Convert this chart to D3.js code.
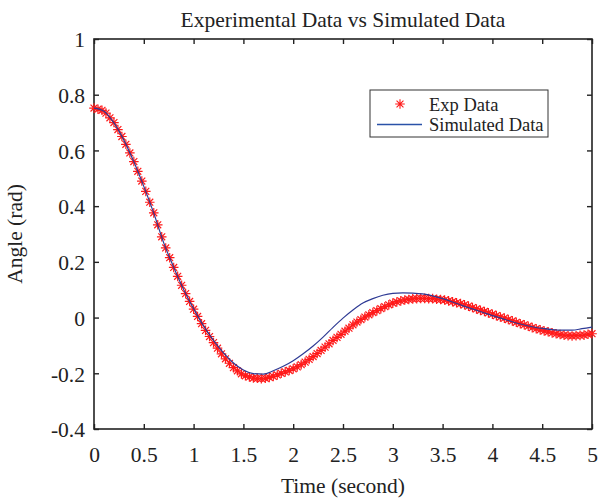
<!DOCTYPE html>
<html>
<head>
<meta charset="utf-8">
<script src="https://cdn.jsdelivr.net/npm/d3@7"></script>
<style>
  html, body { margin: 0; padding: 0; background: #fff; }
  svg { display: block; }
  text { font-family: "Liberation Serif", "Times New Roman", serif; fill: #222; }
</style>
</head>
<body>
<svg id="chart" width="600" height="502"></svg>
<script>
// ---- data ----
const titleText = "Experimental Data vs Simulated Data";
const xLabel = "Time (second)";
const yLabel = "Angle (rad)";
const seriesNames = ["Exp Data", "Simulated Data"];
const xTicks = [0, 0.5, 1, 1.5, 2, 2.5, 3, 3.5, 4, 4.5, 5];
const xTickLabels = ["0", "0.5", "1", "1.5", "2", "2.5", "3", "3.5", "4", "4.5", "5"];
const yTicks = [-0.4, -0.2, 0, 0.2, 0.4, 0.6, 0.8, 1];
const yTickLabels = ["-0.4", "-0.2", "0", "0.2", "0.4", "0.6", "0.8", "1"];

// experimental samples, every 0.04 s from 0 to 5 s
const expStep = 0.04;
const expValues = [
  0.752, 0.748, 0.744, 0.734, 0.717, 0.700, 0.675, 0.650, 0.622, 0.591,
  0.560, 0.525, 0.490, 0.453, 0.414, 0.376, 0.333, 0.290, 0.250, 0.215,
  0.180, 0.148, 0.116, 0.086, 0.058, 0.030, 0.004, -0.022, -0.046, -0.068,
  -0.090, -0.110, -0.130, -0.148, -0.164, -0.180, -0.191, -0.202, -0.209, -0.213,
  -0.217, -0.218, -0.219, -0.218, -0.215, -0.211, -0.206, -0.200, -0.195, -0.190,
  -0.184, -0.177, -0.169, -0.160, -0.150, -0.140, -0.129, -0.118, -0.106, -0.094,
  -0.082, -0.071, -0.060, -0.049, -0.038, -0.026, -0.016, -0.007, 0.002, 0.010,
  0.018, 0.025, 0.032, 0.039, 0.046, 0.052, 0.056, 0.060, 0.063, 0.065,
  0.067, 0.068, 0.069, 0.069, 0.068, 0.068, 0.066, 0.065, 0.063, 0.060,
  0.057, 0.053, 0.050, 0.046, 0.041, 0.036, 0.031, 0.026, 0.022, 0.017,
  0.012, 0.007, 0.002, -0.002, -0.007, -0.012, -0.017, -0.022, -0.026, -0.031,
  -0.036, -0.040, -0.044, -0.048, -0.051, -0.055, -0.058, -0.061, -0.063, -0.065,
  -0.066, -0.065, -0.064, -0.063, -0.060, -0.058
];

// simulated curve, every 0.1 s from 0 to 5 s
const simStep = 0.1;
const simValues = [
  0.752, 0.741, 0.699, 0.637, 0.559, 0.471, 0.375, 0.268, 0.181, 0.101,
  0.032, -0.030, -0.082, -0.127, -0.163, -0.188, -0.201, -0.203, -0.191, -0.175,
  -0.155, -0.130, -0.102, -0.070, -0.035, -0.002, 0.027, 0.052, 0.068, 0.080,
  0.087, 0.089, 0.088, 0.085, 0.078, 0.068, 0.056, 0.043, 0.031, 0.019,
  0.007, -0.004, -0.015, -0.025, -0.033, -0.039, -0.043, -0.045, -0.045, -0.040,
  -0.034
];

const expData = expValues.map((v, i) => ({ t: i * expStep, v }));
const simData = simValues.map((v, i) => ({ t: i * simStep, v }));

// ---- layout ----
const svg = d3.select("#chart");
const L = 94, R = 592, T = 39, B = 429;
const x = d3.scaleLinear().domain([0, 5]).range([L, R]);
const y = d3.scaleLinear().domain([-0.4, 1]).range([B, T]);

const expColor = "#ff1a1a";
const simColor = "#2e3a94";
const axisColor = "#222";
const tickLen = 5;
const tickFont = 21.5;

// axes box
svg.append("rect")
  .attr("x", L).attr("y", T)
  .attr("width", R - L).attr("height", B - T)
  .attr("fill", "none").attr("stroke", axisColor).attr("stroke-width", 1.6);

// x ticks via d3 axes (inward, bottom and top)
const xAxisB = d3.axisBottom(x).tickValues(xTicks).tickSize(-tickLen).tickPadding(18)
  .tickFormat((d, i) => xTickLabels[i]);
const gxb = svg.append("g").attr("transform", `translate(0,${B})`).call(xAxisB);
const xAxisT = d3.axisTop(x).tickValues(xTicks).tickSize(-tickLen).tickFormat("");
const gxt = svg.append("g").attr("transform", `translate(0,${T})`).call(xAxisT);

const yAxisL = d3.axisLeft(y).tickValues(yTicks).tickSize(-tickLen).tickPadding(9)
  .tickFormat((d, i) => yTickLabels[i]);
const gyl = svg.append("g").attr("transform", `translate(${L},0)`).call(yAxisL);
const yAxisR = d3.axisRight(y).tickValues(yTicks).tickSize(-tickLen).tickFormat("");
const gyr = svg.append("g").attr("transform", `translate(${R},0)`).call(yAxisR);

[gxb, gxt, gyl, gyr].forEach(g => {
  g.select(".domain").remove();
  g.selectAll(".tick line").attr("stroke", axisColor).attr("stroke-width", 1.4);
  g.selectAll(".tick text")
    .attr("font-family", "Liberation Serif, serif")
    .attr("font-size", tickFont)
    .attr("fill", "#222");
});
gxb.selectAll(".tick text").attr("dy", "0.71em");
gyl.selectAll(".tick text").attr("dy", "0.36em");

// experimental markers (asterisks)
const ms = 4.8;
const star = `M${-ms},0L${ms},0M0,${-ms}L0,${ms}` +
  `M${-ms * 0.72},${-ms * 0.72}L${ms * 0.72},${ms * 0.72}` +
  `M${-ms * 0.72},${ms * 0.72}L${ms * 0.72},${-ms * 0.72}`;

svg.append("g").selectAll("path")
  .data(expData).join("path")
  .attr("transform", d => `translate(${x(d.t)},${y(d.v)})`)
  .attr("d", star)
  .attr("fill", "none")
  .attr("stroke", expColor)
  .attr("stroke-width", 1.2);

// simulated line
const line = d3.line().x(d => x(d.t)).y(d => y(d.v)).curve(d3.curveMonotoneX);
svg.append("path")
  .datum(simData)
  .attr("d", line)
  .attr("fill", "none")
  .attr("stroke", simColor)
  .attr("stroke-width", 1.2);

// title and labels
svg.append("text")
  .attr("x", (L + R) / 2).attr("y", 27)
  .attr("text-anchor", "middle")
  .attr("font-size", 21.5)
  .text(titleText);

svg.append("text")
  .attr("x", (L + R) / 2).attr("y", 493)
  .attr("text-anchor", "middle")
  .attr("font-size", 21.5)
  .text(xLabel);

svg.append("text")
  .attr("transform", `translate(22,${(T + B) / 2}) rotate(-90)`)
  .attr("text-anchor", "middle")
  .attr("font-size", 21.5)
  .text(yLabel);

// legend
const lg = svg.append("g");
lg.append("rect")
  .attr("x", 370).attr("y", 90).attr("width", 178).attr("height", 47)
  .attr("fill", "#fff").attr("stroke", "#333").attr("stroke-width", 1);
lg.append("path")
  .attr("transform", "translate(400,104)")
  .attr("d", star)
  .attr("fill", "none").attr("stroke", expColor).attr("stroke-width", 1.1);
lg.append("line")
  .attr("x1", 377).attr("x2", 422).attr("y1", 124.5).attr("y2", 124.5)
  .attr("stroke", "#2a52a8").attr("stroke-width", 1.3);
lg.append("text")
  .attr("x", 429).attr("y", 110.5)
  .attr("font-size", 18.5)
  .text(seriesNames[0]);
lg.append("text")
  .attr("x", 429).attr("y", 131)
  .attr("font-size", 18.5)
  .text(seriesNames[1]);
</script>
</body>
</html>
